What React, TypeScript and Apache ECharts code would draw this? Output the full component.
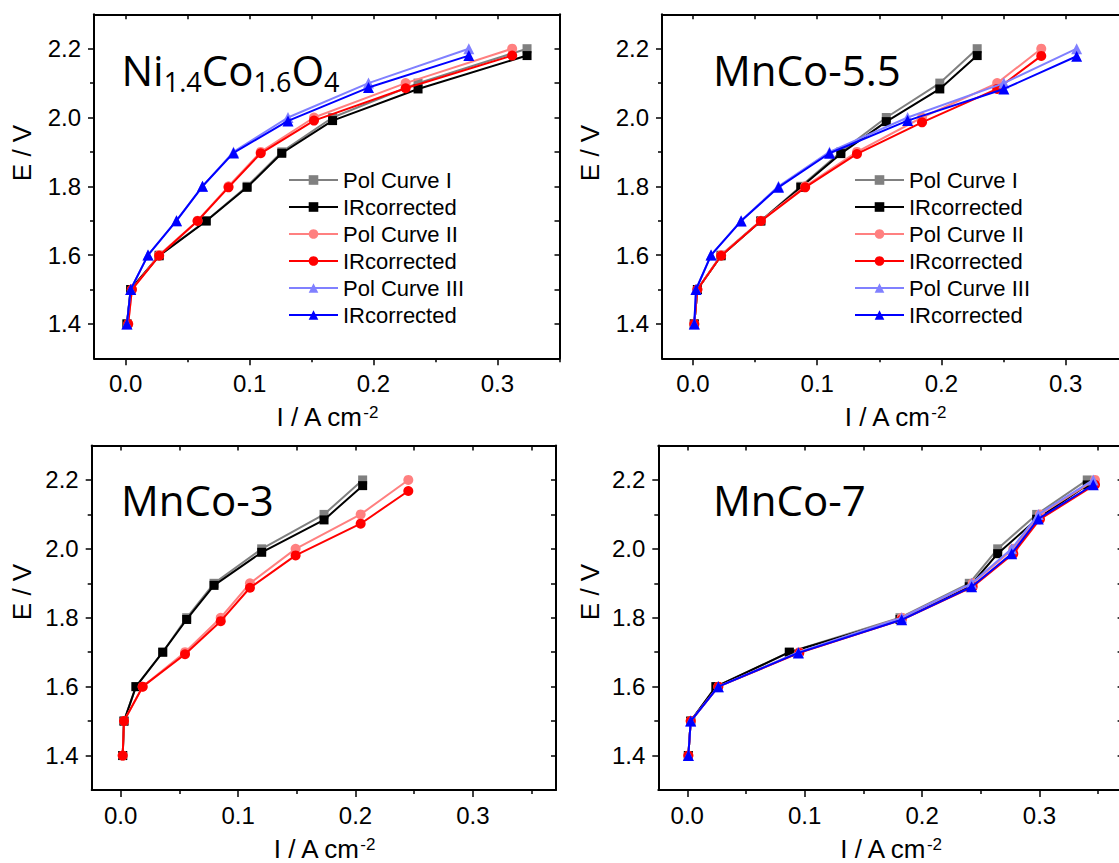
import React, { useEffect, useRef } from "react";
import * as echarts from "echarts";

const FONT = "Arial, 'Liberation Sans', sans-serif";
const TITLE_FONT = "'Open Sans', sans-serif";

// ---------- data ----------
const E_NOMINAL = [1.4, 1.5, 1.6, 1.7, 1.8, 1.9, 2.0, 2.1, 2.2];

// Ni1.4Co1.6O4
const niI_1 = [0.001, 0.004, 0.027, 0.065, 0.098, 0.126, 0.167, 0.236, 0.324];
const niE_IR1 = [1.4, 1.5, 1.598, 1.699, 1.797, 1.896, 1.991, 2.083, 2.18];
const niI_2 = [0.002, 0.005, 0.027, 0.058, 0.083, 0.109, 0.152, 0.226, 0.312];
const niE_IR2 = [1.4, 1.5, 1.598, 1.699, 1.797, 1.896, 1.991, 2.085, 2.18];
const niI_3 = [0.001, 0.004, 0.018, 0.041, 0.062, 0.087, 0.131, 0.196, 0.277];
const niE_IR3 = [1.4, 1.5, 1.6, 1.7, 1.8, 1.897, 1.99, 2.087, 2.18];

// MnCo-5.5
const mn55I_1 = [0.001, 0.0035, 0.0226, 0.0546, 0.0868, 0.119, 0.1556, 0.1987, 0.2288];
const mn55E_IR1 = [1.4, 1.5, 1.598, 1.699, 1.797, 1.895, 1.988, 2.083, 2.18];
const mn55I_2 = [0.001, 0.0035, 0.0226, 0.0546, 0.0903, 0.132, 0.1844, 0.2449, 0.2804];
const mn55E_IR2 = [1.4, 1.5, 1.598, 1.699, 1.797, 1.894, 1.986, 2.083, 2.179];
const mn55I_3 = [0.001, 0.0024, 0.0145, 0.0387, 0.0688, 0.1099, 0.1728, 0.2503, 0.3089];
const mn55E_IR3 = [1.4, 1.5, 1.6, 1.699, 1.797, 1.896, 1.991, 2.083, 2.178];

// MnCo-3
const mn3I_1 = [0.0017, 0.0028, 0.013, 0.0358, 0.0562, 0.0795, 0.1201, 0.1732, 0.2061];
const mn3E_IR1 = [1.4, 1.5, 1.6, 1.7, 1.795, 1.894, 1.99, 2.084, 2.1835];
const mn3I_2 = [0.0017, 0.0028, 0.0187, 0.0548, 0.0852, 0.1101, 0.149, 0.2044, 0.245];
const mn3E_IR2 = [1.4, 1.5, 1.6, 1.694, 1.79, 1.887, 1.981, 2.073, 2.168];

// MnCo-7
const mn7I_1 = [0.0009, 0.0029, 0.0244, 0.0869, 0.1812, 0.2402, 0.2644, 0.2976, 0.3407];
const mn7E_IR1 = [1.4, 1.5, 1.6, 1.7, 1.795, 1.89, 1.986, 2.086, 2.1855];
const mn7I_2 = [0.0009, 0.0029, 0.0264, 0.0954, 0.1826, 0.2431, 0.2777, 0.3004, 0.3473];
const mn7E_IR2 = [1.4, 1.5, 1.6, 1.698, 1.794, 1.89, 1.986, 2.086, 2.186];
const mn7I_3 = [0.0009, 0.0029, 0.0264, 0.0946, 0.1826, 0.2422, 0.2763, 0.299, 0.3458];
const mn7E_IR3 = [1.4, 1.5, 1.6, 1.698, 1.794, 1.89, 1.986, 2.087, 2.186];

// tick labels
const X_MAJOR = [0, 0.1, 0.2, 0.3];
const X_MINOR = [0.05, 0.15, 0.25, 0.35];
const X_ALL = [0, 0.05, 0.1, 0.15, 0.2, 0.25, 0.3, 0.35];
const Y_MAJOR = [1.4, 1.6, 1.8, 2.0, 2.2];
const Y_MINOR = [1.5, 1.7, 1.9, 2.1];
const Y_ALL = [1.4, 1.5, 1.6, 1.7, 1.8, 1.9, 2.0, 2.1, 2.2];

const LEGEND_LABELS = ["Pol Curve I", "IRcorrected", "Pol Curve II", "IRcorrected", "Pol Curve III", "IRcorrected"];
const PANEL_KEYS = ["Ni", "MnCo55", "MnCo3", "MnCo7"];

// ---------- layout ----------
const GRIDS = [
  { left: 94, top: 14.3, width: 465.5, height: 344, xMin: -0.0256, xMax: 0.3502 },
  { left: 662, top: 14.3, width: 465.7, height: 344, xMin: -0.025, xMax: 0.35 },
  { left: 91.7, top: 445.5, width: 464.3, height: 345.8, xMin: -0.0247, xMax: 0.3708 },
  { left: 658.3, top: 445.5, width: 464.3, height: 345.8, xMin: -0.0247, xMax: 0.3708 },
];
const Y_MIN = 1.3;
const Y_MAX = 2.3;

const STYLES = [
  { color: "#808080", symbol: "rect", size: 9 },
  { color: "#000000", symbol: "rect", size: 9 },
  { color: "#ff8080", symbol: "circle", size: 10 },
  { color: "#ff0000", symbol: "circle", size: 10 },
  { color: "#8080ff", symbol: "triangle", size: 11 },
  { color: "#0000ff", symbol: "triangle", size: 11 },
];

const PANEL_DATA: [number[], number[]][][] = [
  [[niI_1, E_NOMINAL], [niI_1, niE_IR1], [niI_2, E_NOMINAL], [niI_2, niE_IR2], [niI_3, E_NOMINAL], [niI_3, niE_IR3]],
  [[mn55I_1, E_NOMINAL], [mn55I_1, mn55E_IR1], [mn55I_2, E_NOMINAL], [mn55I_2, mn55E_IR2], [mn55I_3, E_NOMINAL], [mn55I_3, mn55E_IR3]],
  [[mn3I_1, E_NOMINAL], [mn3I_1, mn3E_IR1], [mn3I_2, E_NOMINAL], [mn3I_2, mn3E_IR2]],
  [[mn7I_1, E_NOMINAL], [mn7I_1, mn7E_IR1], [mn7I_2, E_NOMINAL], [mn7I_2, mn7E_IR2], [mn7I_3, E_NOMINAL], [mn7I_3, mn7E_IR3]],
];

const seriesName = (p: number, i: number) => `${PANEL_KEYS[p]}#${i}`;
const nameToLabel = (n: string) => LEGEND_LABELS[Number(n.split("#")[1])];

function buildOption() {
  const grid: any[] = [];
  const xAxis: any[] = [];
  const yAxis: any[] = [];
  const series: any[] = [];
  const fmt = (v: number) => v.toFixed(1);
  const lineBase = { show: true, onZero: false, lineStyle: { color: "#000", width: 2 } };

  GRIDS.forEach((g, gi) => {
    grid.push({ left: g.left, top: g.top, width: g.width, height: g.height, containLabel: false });
    const xCommon = { type: "value", gridIndex: gi, min: g.xMin, max: g.xMax, splitLine: { show: false } };
    xAxis.push({
      ...xCommon,
      position: "bottom",
      axisLine: lineBase,
      axisTick: { show: true, inside: false, length: 7, customValues: X_MAJOR, lineStyle: { color: "#000", width: 1.5 } },
      axisLabel: { show: true, customValues: X_MAJOR, formatter: fmt, fontSize: 24, fontFamily: FONT, color: "#000", margin: 13 },
      name: "I / A cm{sup|-2}",
      nameLocation: "middle",
      nameGap: 46,
      nameTextStyle: {
        fontSize: 26,
        fontFamily: FONT,
        color: "#000",
        rich: { sup: { fontSize: 17, fontFamily: FONT, color: "#000", verticalAlign: "top" } },
      },
    });
    xAxis.push({
      ...xCommon,
      position: "bottom",
      axisLine: { show: false, onZero: false },
      axisTick: { show: true, inside: false, length: 4, customValues: X_MINOR, lineStyle: { color: "#000", width: 1.5 } },
      axisLabel: { show: false },
    });
    xAxis.push({
      ...xCommon,
      position: "top",
      axisLine: lineBase,
      axisTick: { show: true, inside: true, length: 5, customValues: X_ALL, lineStyle: { color: "#000", width: 1.5 } },
      axisLabel: { show: false },
    });

    const yCommon = { type: "value", gridIndex: gi, min: Y_MIN, max: Y_MAX, splitLine: { show: false } };
    yAxis.push({
      ...yCommon,
      position: "left",
      axisLine: lineBase,
      axisTick: { show: true, inside: false, length: 6, customValues: Y_MAJOR, lineStyle: { color: "#000", width: 1.5 } },
      axisLabel: { show: true, customValues: Y_MAJOR, formatter: fmt, fontSize: 24, fontFamily: FONT, color: "#000", margin: 13 },
    });
    yAxis.push({
      ...yCommon,
      position: "left",
      axisLine: { show: false, onZero: false },
      axisTick: { show: true, inside: false, length: 4, customValues: Y_MINOR, lineStyle: { color: "#000", width: 1.5 } },
      axisLabel: { show: false },
    });
    yAxis.push({
      ...yCommon,
      position: "right",
      axisLine: lineBase,
      axisTick: { show: true, inside: true, length: 5, customValues: Y_ALL, lineStyle: { color: "#000", width: 1.5 } },
      axisLabel: { show: false },
    });

    PANEL_DATA[gi].forEach(([xs, ys], si) => {
      const st = STYLES[si];
      series.push({
        type: "line",
        name: seriesName(gi, si),
        xAxisIndex: gi * 3,
        yAxisIndex: gi * 3,
        data: xs.map((x, k) => [x, ys[k]]),
        symbol: st.symbol,
        symbolSize: st.size,
        showSymbol: true,
        showAllSymbol: true,
        lineStyle: { color: st.color, width: 2 },
        itemStyle: { color: st.color },
        emphasis: { disabled: true },
        silent: true,
        z: 2 + si,
      });
    });
  });

  const legendCommon = {
    orient: "vertical",
    top: 164,
    itemWidth: 49,
    itemHeight: 12,
    itemGap: 5,
    selectedMode: false,
    formatter: nameToLabel,
    textStyle: { fontSize: 22, fontFamily: FONT, color: "#000" },
  };
  const legend = [
    { ...legendCommon, left: 283, data: [0, 1, 2, 3, 4, 5].map((i) => seriesName(0, i)) },
    { ...legendCommon, left: 849, data: [0, 1, 2, 3, 4, 5].map((i) => seriesName(1, i)) },
  ];

  const titleRich = {
    b: { fontSize: 42, fontFamily: TITLE_FONT, color: "#000", verticalAlign: "bottom" },
    m: { fontSize: 42, fontFamily: TITLE_FONT, color: "#000", verticalAlign: "bottom", padding: [0, 0, 5, 0] },
    s: { fontSize: 27, fontFamily: TITLE_FONT, color: "#000", verticalAlign: "bottom" },
  };
  const title = (x: number, y: number, text: string) => ({
    type: "text",
    x,
    y,
    silent: true,
    style: { text, rich: titleRich, fill: "#000", align: "left", verticalAlign: "bottom" },
  });
  const eTitle = (x: number, y: number) => ({
    type: "text",
    x,
    y,
    rotation: Math.PI / 2,
    silent: true,
    style: { text: "E / V", fontSize: 26, fontFamily: FONT, fill: "#000", align: "center", verticalAlign: "middle" },
  });

  const graphic = [
    title(121.5, 95, "{m|Ni}{s|1.4}{m|Co}{s|1.6}{m|O}{s|4}"),
    title(713, 90, "{b|MnCo-5.5}"),
    title(121, 520, "{b|MnCo-3}"),
    title(713, 520, "{b|MnCo-7}"),
    eTitle(22, 153),
    eTitle(590, 153),
    eTitle(22, 592),
    eTitle(590, 592),
  ];

  return {
    animation: false,
    backgroundColor: "#ffffff",
    grid,
    xAxis,
    yAxis,
    series,
    legend,
    graphic,
  };
}

export default function App() {
  const ref = useRef<HTMLDivElement>(null);
  useEffect(() => {
    if (!ref.current) return;
    const chart = echarts.init(ref.current, undefined, { renderer: "svg" });
    chart.setOption(buildOption() as any);
    return () => chart.dispose();
  }, []);
  return (
    <div style={{ position: "fixed", left: 0, top: 0, width: 1119, height: 863, overflow: "hidden", background: "#fff" }}>
      <div ref={ref} style={{ width: 1140, height: 863 }} />
    </div>
  );
}
